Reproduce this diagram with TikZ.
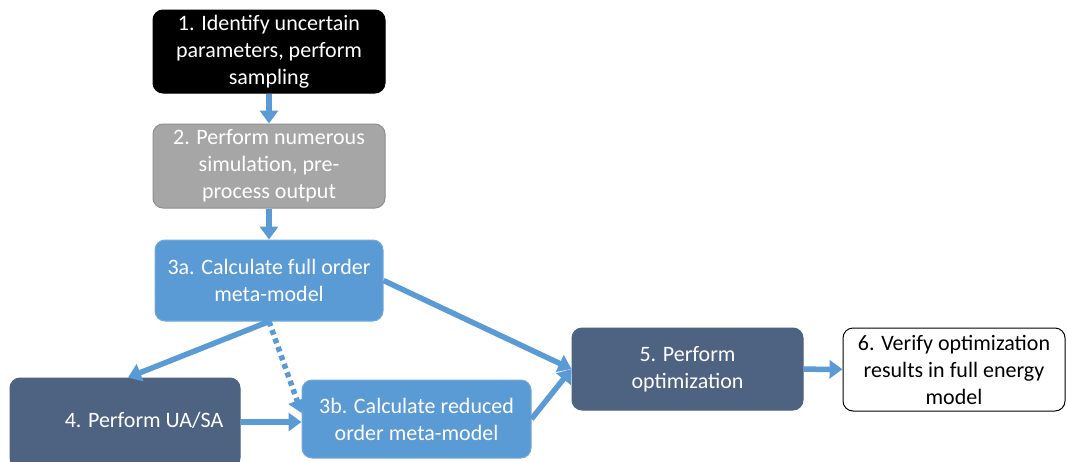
\documentclass[tikz,border=0pt]{standalone}
\usepackage{fontspec}
\setmainfont{Carlito}
\usetikzlibrary{arrows.meta,calc}
\definecolor{flowblue}{HTML}{5B9BD5}
\definecolor{slate}{HTML}{4E6281}
\definecolor{midgray}{HTML}{A6A6A6}
\definecolor{graybd}{HTML}{8F8F8F}
\begin{document}
\begin{tikzpicture}[x=1pt,y=-1pt,
  box/.style={rounded corners=10pt, align=center, font=\fontsize{22}{27}\selectfont,
              text=white, inner sep=2pt, line width=1pt},
  flow/.style={draw=flowblue, line width=5.5pt,
               -{Triangle[width=18pt,length=13pt]}},
]
\useasboundingbox (0,0) rectangle (1067,461);
\fill[white] (0,0) rectangle (1067,461);

\node[box, fill=black, draw=black, minimum width=232pt, minimum height=83pt]
  (s1) at (269,51.5) {1. Identify uncertain\\parameters, perform\\sampling};
\node[box, fill=midgray, draw=graybd, minimum width=232pt, minimum height=84pt]
  (s2) at (269,166) {2. Perform numerous\\simulation, pre-\\process output};
\node[box, fill=flowblue, draw=flowblue!85!white, minimum width=228pt, minimum height=81pt]
  (s3a) at (269,280.5) {3a. Calculate full order\\meta-model};
\node[box, fill=slate, draw=slate, minimum width=230pt, minimum height=90pt]
  (s4) at (125,423) {\hspace*{38pt}4. Perform UA/SA\vphantom{$X_p$}};
\node[box, fill=flowblue, draw=flowblue!85!white, minimum width=229pt, minimum height=78pt]
  (s3b) at (416.5,419) {3b. Calculate reduced\\order meta-model};
\node[box, fill=slate, draw=slate, minimum width=231pt, minimum height=82pt]
  (s5) at (687.5,369) {5. Perform\\optimization};
\node[box, fill=white, draw=black, text=black, minimum width=222pt, minimum height=83pt]
  (s6) at (954,369.5) {6. Verify optimization\\results in full energy\\model};

\draw[flow] (s1) -- (s2);
\draw[flow] (s2) -- (s3a);
\draw[flow] (s3a.south) -- (s4.north -| 128,0);
\draw[flow, dash pattern=on 5pt off 4pt] (s3a.south) -- ([yshift=6pt]s3b.west);
\draw[flow] (s4.east |- 0,422) -- (s3b.west |- 0,422);
\draw[flow] (s3a.east) -- (s5.west);
\draw[flow] (s3b.east) -- (s5.west);
\draw[flow] (s5) -- (s6);
\end{tikzpicture}
\end{document}
